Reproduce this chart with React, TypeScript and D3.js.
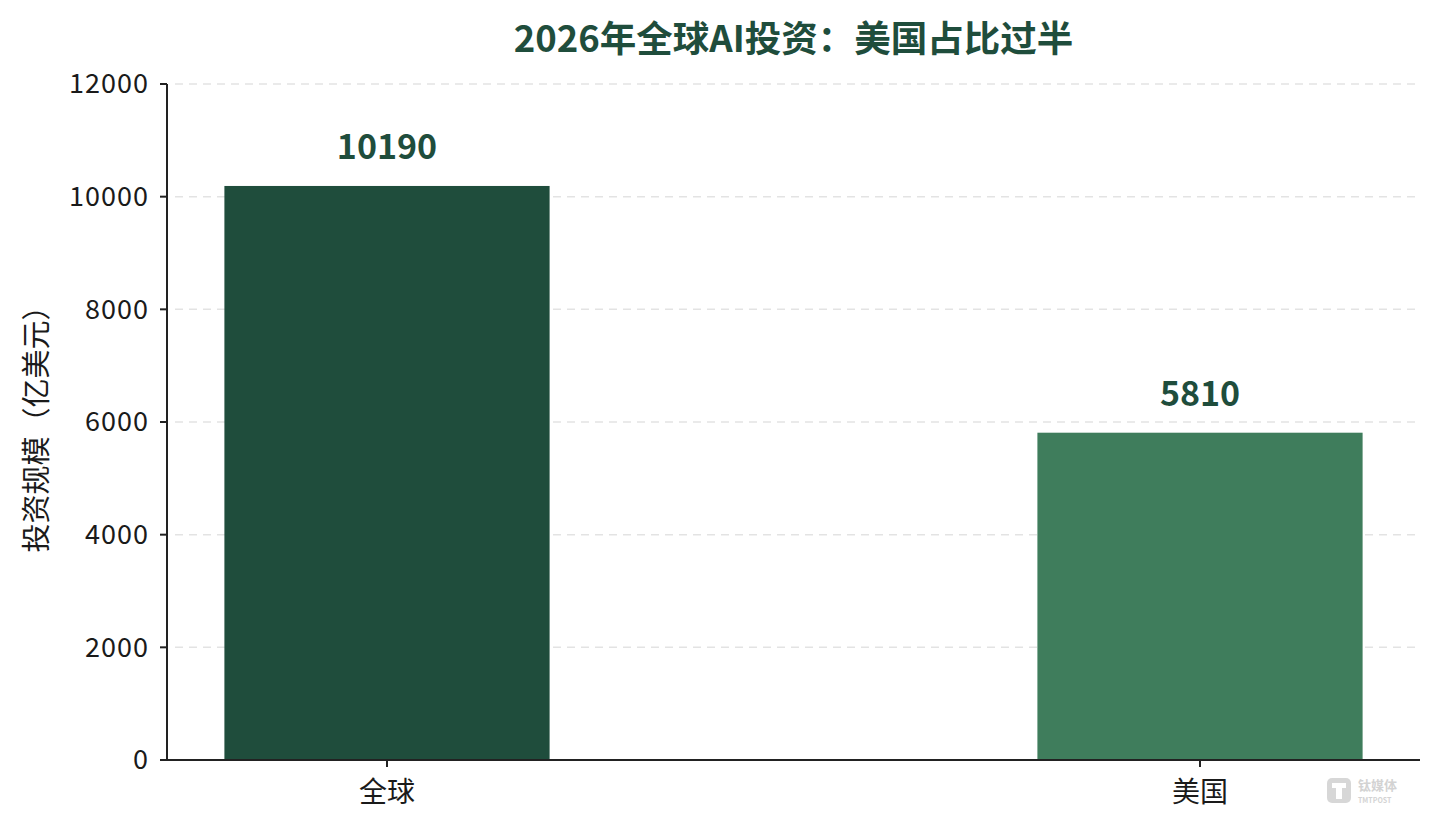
import * as d3 from "d3";

const categories = ["全球", "美国"];
const values = [10190, 5810];
const barColors = ["#1f4d3c", "#3f7d5c"];
const yTicks = [0, 2000, 4000, 6000, 8000, 10000, 12000];

const W = 1440;
const H = 831;
const left = 167;
const right = 1420;
const top = 84;
const bottom = 760;
const FONT = "'Noto Sans CJK SC', 'Noto Sans', sans-serif";

export default function App() {
  const x = d3.scalePoint<string>().domain(categories).range([left, right]).padding(0.2706);
  const y = d3.scaleLinear().domain([0, 12000]).range([bottom, top]);
  const bw = x.step() * 0.4;

  return (
    <svg width={W} height={H} style={{ position: "absolute", left: 0, top: 0, background: "#fff" }} fontFamily={FONT}>
      <text x={(left + right) / 2} y={52} textAnchor="middle" fontSize={36.5} fontWeight={700} fill="#1f4d3c">
        2026年全球AI投资：美国占比过半
      </text>

      {/* grid */}
      {yTicks.slice(1).map((t) => (
        <line key={t} x1={left + 8} x2={right} y1={y(t)} y2={y(t)} stroke="#e3e3e3" strokeWidth={1.5} strokeDasharray="8,6" />
      ))}

      {/* bars */}
      {categories.map((c, i) => (
        <g key={c}>
          <rect x={x(c)! - bw / 2} y={y(values[i])} width={bw} height={bottom - y(values[i])} fill={barColors[i]} />
          <text x={x(c)} y={y(values[i]) - 27} textAnchor="middle" fontSize={34} fontWeight={700} fill="#1f4d3c">
            {values[i]}
          </text>
        </g>
      ))}

      {/* y axis */}
      <line x1={left} x2={left} y1={top} y2={bottom} stroke="#222" strokeWidth={2} />
      {yTicks.map((t) => (
        <g key={t}>
          <line x1={left - 7} x2={left} y1={y(t)} y2={y(t)} stroke="#222" strokeWidth={2} />
          <text x={left - 18} y={y(t)} dy="0.35em" textAnchor="end" fontSize={27} letterSpacing={1} fill="#1a1a1a">
            {t}
          </text>
        </g>
      ))}
      <text transform={`translate(37,${(top + bottom) / 2}) rotate(-90)`} textAnchor="middle" dy="0.35em" fontSize={29} fill="#1a1a1a">
        投资规模（亿美元）
      </text>

      {/* x axis */}
      <line x1={left} x2={right} y1={bottom} y2={bottom} stroke="#222" strokeWidth={2} />
      {categories.map((c) => (
        <g key={c}>
          <line x1={x(c)} x2={x(c)} y1={bottom} y2={bottom + 7} stroke="#222" strokeWidth={2} />
          <text x={x(c)} y={bottom + 42} textAnchor="middle" fontSize={28} fill="#1a1a1a">
            {c}
          </text>
        </g>
      ))}

      {/* watermark */}
      <g opacity={0.55}>
        <rect x={1327} y={778} width={24} height={25} rx={5} fill="#b8b8b8" />
        <rect x={1332} y={783} width={14} height={5} fill="#fff" />
        <rect x={1336} y={787} width={6} height={12} fill="#fff" />
        <text x={1358} y={790} fontSize={13} fill="#b0b0b0" fontWeight={700}>钛媒体</text>
        <text x={1358} y={803} fontSize={7} fill="#b0b0b0" fontWeight={700}>TMTPOST</text>
      </g>
    </svg>
  );
}
